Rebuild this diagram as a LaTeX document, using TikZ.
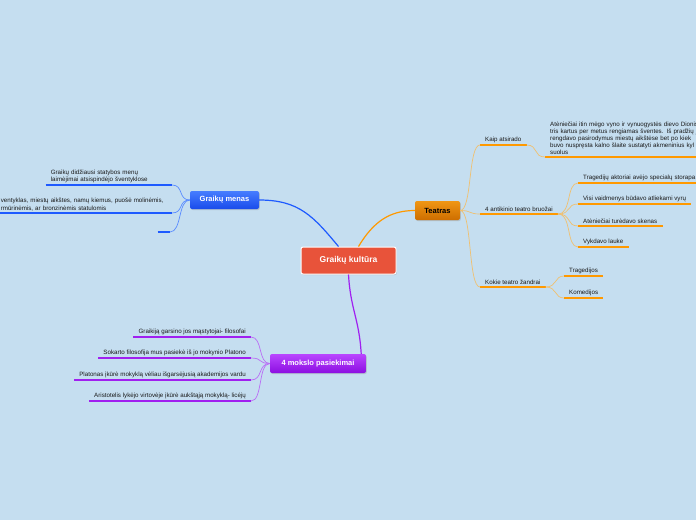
\documentclass[tikz,border=0pt]{standalone}
\usepackage{fontspec}
\setmainfont{Liberation Sans}
\usetikzlibrary{shadows, calc}

\definecolor{bgblue}{RGB}{197,222,240}
\definecolor{leaftext}{RGB}{25,25,25}
\definecolor{teatrorange}{RGB}{255,153,0}
\definecolor{teatrtwig}{RGB}{240,192,112}
\definecolor{menasblue}{RGB}{30,90,255}
\definecolor{menastwig}{RGB}{90,140,255}
\definecolor{mokslpurple}{RGB}{160,32,240}
\definecolor{moksltwig}{RGB}{185,110,245}

\begin{document}
\begin{tikzpicture}[x=1pt, y=-1pt,
    topic/.style={rounded corners=2pt, inner xsep=6pt, minimum height=19pt,
      font=\fontsize{7.5}{9}\selectfont\bfseries,
      drop shadow={opacity=0.3, shadow xshift=0.8pt, shadow yshift=-1pt}},
    leaf/.style={inner xsep=5pt, inner ysep=2pt, text=leaftext,
      font=\fontsize{6.2}{7.1}\selectfont},
    uline/.style={line width=2.6pt},
    twig/.style={line width=0.7pt},
    limb/.style={line width=1.2pt}]

    \useasboundingbox (0,0) rectangle (696,520);
    \fill[bgblue] (0,0) rectangle (696,520);
    \clip (0,0) rectangle (696,520);

    % Main topics
    \node[topic, fill={rgb,255:red,232;green,83;blue,58}, draw=white, line width=1pt,
      minimum width=95pt, minimum height=27pt, text=white,
      font=\fontsize{8.5}{10}\selectfont\bfseries] (kultura) at (348.5,260.5) {Graikų kultūra};
    \node[topic, top color={rgb,255:red,240;green,150;blue,20}, bottom color={rgb,255:red,205;green,110;blue,0},
      minimum width=45pt, text=black] (teatras) at (437.5,210.5) {Teatras};
    \node[topic, top color={rgb,255:red,70;green,125;blue,255}, bottom color={rgb,255:red,25;green,75;blue,235},
      minimum width=69pt, minimum height=18pt, text=white] (menas) at (224.5,200) {Graikų menas};
    \node[topic, top color={rgb,255:red,185;green,70;blue,255}, bottom color={rgb,255:red,140;green,15;blue,225},
      minimum width=96pt, text=white] (mokslas) at (318,363.5) {4 mokslo pasiekimai};

    % Main connectors
    \draw[limb, menasblue] ([xshift=-10pt]kultura.north) .. controls +(-25,-30) and +(40,0) .. (menas.east);
    \draw[limb, teatrorange] ([xshift=10pt]kultura.north) .. controls +(15,-25) and +(-25,0) .. (teatras.west);
    \draw[limb, mokslpurple] (kultura.south) .. controls +(2,35) and +(-2,-35) .. ([xshift=-5pt]mokslas.north east);

    % Teatras branch
    \node[leaf, anchor=south west] (kilme) at (480,145) {Kaip atsirado};
    \node[leaf, anchor=south west] (bruozai) at (480,214) {4 antikinio teatro bruožai};
    \node[leaf, anchor=south west] (zanrai) at (480,287) {Kokie teatro žandrai};

    \node[leaf, anchor=south west, text width=170pt, align=left] (kilme1) at (545,157)
      {Atėniečiai itin mėgo vyno ir vynuogystės dievo Dionis\\tris kartus per metus rengiamas šventes. Iš pradžių j\\rengdavo pasirodymus miestų aikštėse bet po kiek\\buvo nuspręsta kalno šlaite sustatyti akmeninius kyl\\suolus};

    \node[leaf, anchor=south west, text width=130pt, align=left] (bruozai1) at (578,183) {Tragedijų aktoriai avėjo specialų storapa};
    \node[leaf, anchor=south west] (bruozai2) at (578,204) {Visi vaidmenys būdavo atliekami vyrų};
    \node[leaf, anchor=south west] (bruozai3) at (578,226) {Atėniečiai turėdavo skenas};
    \node[leaf, anchor=south west] (bruozai4) at (578,247) {Vykdavo lauke};

    \node[leaf, anchor=south west] (zanrai1) at (564,276) {Tragedijos};
    \node[leaf, anchor=south west] (zanrai2) at (564,298) {Komedijos};

    \foreach \n in {kilme, bruozai, zanrai, kilme1, bruozai1, bruozai2, bruozai3, bruozai4, zanrai1, zanrai2}
      \draw[uline, teatrorange] (\n.south west) -- (\n.south east);

    \foreach \n in {kilme, bruozai, zanrai}
      \draw[twig, teatrtwig] (teatras.east) .. controls +(12,0) and +(-12,0) .. (\n.south west);
    \draw[twig, teatrtwig] (kilme.south east) .. controls +(12,0) and +(-12,0) .. (kilme1.south west);
    \foreach \n in {bruozai1, bruozai2, bruozai3, bruozai4}
      \draw[twig, teatrtwig] (bruozai.south east) .. controls +(14,0) and +(-12,0) .. (\n.south west);
    \foreach \n in {zanrai1, zanrai2}
      \draw[twig, teatrtwig] (zanrai.south east) .. controls +(12,0) and +(-10,0) .. (\n.south west);

    % Graikų menas branch
    \node[leaf, anchor=south east, text width=116pt, align=left] (menas1) at (172,185)
      {Graikų didžiausi statybos menų\\laimėjimai atsispindėjo šventyklose};
    \node[leaf, anchor=south east, text width=166pt, align=left] (menas2) at (172,213)
      {ventyklas, miestų aikštes, namų kiemus, puošė molinėmis,\\rmūrinėmis, ar bronzinėmis statulomis};
    \node[leaf, anchor=south east, minimum width=12pt, inner xsep=0pt] (menas3) at (170,232) {};

    \foreach \n in {menas1, menas2, menas3} {
      \draw[uline, menasblue] (\n.south west) -- (\n.south east);
      \draw[twig, menastwig] (menas.west) .. controls +(-12,0) and +(12,0) .. (\n.south east);
    }

    % 4 mokslo pasiekimai branch
    \node[leaf, anchor=south east] (mokslas1) at (251,337) {Graikiją garsino jos mąstytojai- filosofai};
    \node[leaf, anchor=south east] (mokslas2) at (251,358) {Sokarto filosofija mus pasiekė iš jo mokynio Platono};
    \node[leaf, anchor=south east] (mokslas3) at (251,380) {Platonas įkūrė mokyklą vėliau išgarsėjusią akademijos vardu};
    \node[leaf, anchor=south east] (mokslas4) at (251,401) {Aristotelis lykėjo virtovėje įkūrė aukštąją mokyklą- licėjų};

    \foreach \n in {mokslas1, mokslas2, mokslas3, mokslas4} {
      \draw[uline, mokslpurple] (\n.south west) -- (\n.south east);
      \draw[twig, moksltwig] (mokslas.west) .. controls +(-12,0) and +(12,0) .. (\n.south east);
    }

\end{tikzpicture}
\end{document}
